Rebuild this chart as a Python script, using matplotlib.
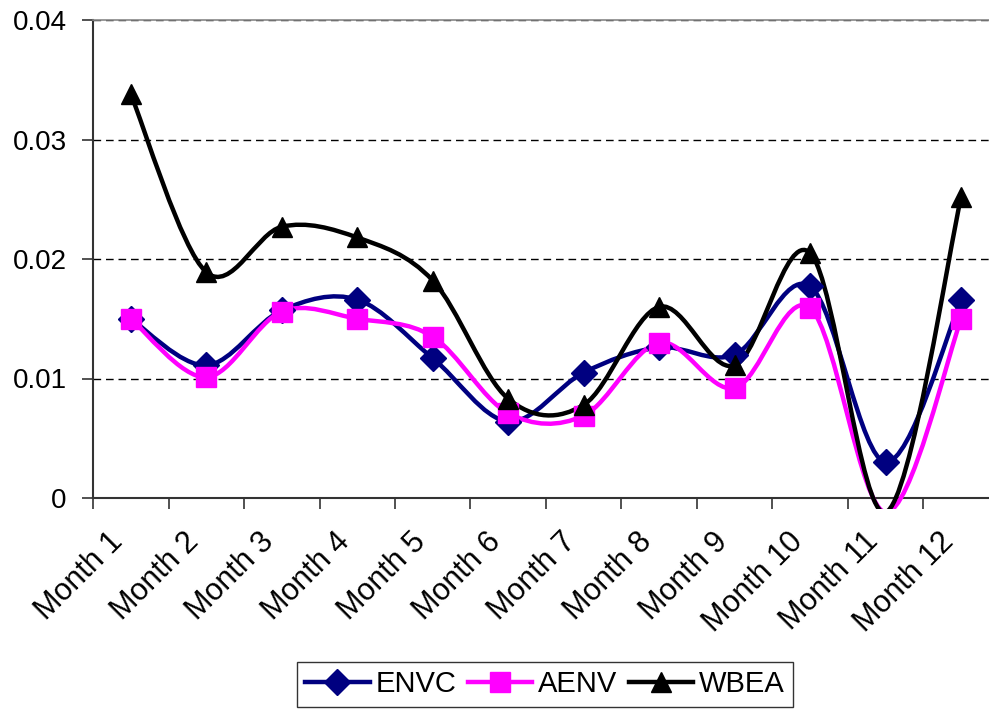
import numpy as np
import matplotlib
matplotlib.use('Agg')
import matplotlib.pyplot as plt
from matplotlib.path import Path
from matplotlib.patches import PathPatch, Rectangle
from matplotlib.lines import Line2D

plt.rcParams.update({
    'font.family': ['Liberation Sans', 'DejaVu Sans'],
    'font.size': 20,
})

months = ['Month 1', 'Month 2', 'Month 3', 'Month 4', 'Month 5', 'Month 6',
          'Month 7', 'Month 8', 'Month 9', 'Month 10', 'Month 11', 'Month 12']

envc = [0.0150, 0.0111, 0.0157, 0.0166, 0.0117, 0.0064,
        0.0105, 0.0126, 0.0120, 0.0177, 0.0030, 0.0166]
aenv = [0.0150, 0.0101, 0.0156, 0.0150, 0.0135, 0.0071,
        0.0069, 0.0130, 0.0092, 0.0159, -0.0012, 0.0150]
wbea = [0.0338, 0.0189, 0.0227, 0.0218, 0.0182, 0.0083,
        0.0078, 0.0160, 0.0111, 0.0205, -0.0012, 0.0252]

series = [('ENVC', envc, '#000080', 'D', 13),
          ('AENV', aenv, '#FF00FF', 's', 15),
          ('WBEA', wbea, 'black', '^', 15)]


def smooth_path(xs, ys):
    # Excel-style smoothed line: cubic bezier through every point
    pts = np.column_stack([xs, ys])
    n = len(pts)
    verts = [pts[0]]
    codes = [Path.MOVETO]
    for i in range(n - 1):
        p0 = pts[max(i - 1, 0)]
        p1 = pts[i]
        p2 = pts[i + 1]
        p3 = pts[min(i + 2, n - 1)]
        c1 = p1 + (p2 - p0) / 6.0
        c2 = p2 - (p3 - p1) / 6.0
        verts += [c1, c2, p2]
        codes += [Path.CURVE4] * 3
    return Path(verts, codes)


fig = plt.figure(figsize=(9.89, 7.09), dpi=100)
ax = fig.add_axes([93 / 989, 211 / 709, 906 / 989, 478 / 709])

x = np.arange(len(months))
clip = Rectangle((0, -0.022), 1.2, 1.1, transform=ax.transAxes,
                 facecolor='none', edgecolor='none')

handles = []
for name, vals, color, mk, ms in series:
    vals = np.array(vals)
    patch = PathPatch(smooth_path(x, vals), facecolor='none', edgecolor=color,
                      lw=3.2, transform=ax.transData, zorder=3,
                      capstyle='round', joinstyle='round')
    ax.add_patch(patch)
    patch.set_clip_path(clip)
    shown = np.where(vals >= 0, vals, np.nan)
    ax.plot(x, shown, linestyle='none', marker=mk, markersize=ms,
            color=color, zorder=4, clip_on=False)
    handles.append(Line2D([], [], color=color, lw=3.2, marker=mk,
                          markersize=ms, label=name))

ax.set_xlim(-0.5, 11.5)
ax.set_ylim(0, 0.04)
ax.set_yticks([0, 0.01, 0.02, 0.03, 0.04])
ax.set_yticklabels(['0', '0.01', '0.02', '0.03', '0.04'])
ax.yaxis.grid(True, color='black', linestyle=(0, (5.5, 3.5)), linewidth=1.0)
ax.set_axisbelow(True)

# tick marks sit between categories, labels are placed under each category
ax.set_xticks(np.arange(-0.5, 12, 1))
ax.set_xticklabels([])
ax.tick_params(axis='x', length=8, width=1.2, color='#333333')
ax.tick_params(axis='y', length=8, width=1.2, color='#333333', pad=11)
for i, m in enumerate(months):
    ax.annotate(m, xy=(x[i], 0), xycoords=('data', 'axes fraction'),
                xytext=(-12, -39), textcoords='offset pixels',
                rotation=45, ha='right', va='center', rotation_mode='anchor',
                fontsize=22, annotation_clip=False)

for s in ['left', 'bottom']:
    ax.spines[s].set_linewidth(1.5)
    ax.spines[s].set_color('#333333')
ax.spines['top'].set_color('#888888')
ax.spines['top'].set_linewidth(1.2)
ax.spines['right'].set_visible(False)

leg = fig.legend(handles=handles, loc='center', bbox_to_anchor=(545 / 989, 24.5 / 709),
                 ncol=3, frameon=True, fancybox=False, edgecolor='black',
                 handlelength=2.2, handletextpad=0.2, columnspacing=0.4,
                 borderpad=0.28, borderaxespad=0, fontsize=21)
leg.get_frame().set_linewidth(1.0)

fig.savefig('out.png', dpi=100)
